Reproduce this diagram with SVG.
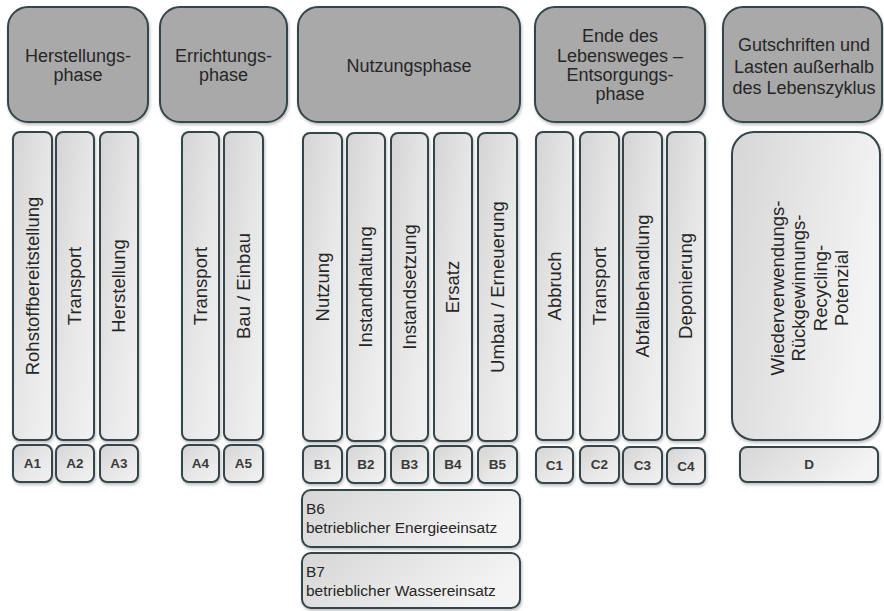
<svg xmlns="http://www.w3.org/2000/svg" width="884" height="611" viewBox="0 0 884 611">
<defs>
  <linearGradient id="colGrad" x1="0" y1="0" x2="1" y2="1">
    <stop offset="0" stop-color="#d4d4d4"/>
    <stop offset="0.5" stop-color="#e6e6e6"/>
    <stop offset="1" stop-color="#f2f2f2"/>
  </linearGradient>
  <linearGradient id="wideGrad" x1="0" y1="0" x2="1" y2="0.3">
    <stop offset="0" stop-color="#d6d6d6"/>
    <stop offset="1" stop-color="#f4f4f4"/>
  </linearGradient>
  <filter id="sh" x="-20%" y="-20%" width="140%" height="140%">
    <feDropShadow dx="1" dy="2" stdDeviation="1.5" flood-color="#000" flood-opacity="0.25"/>
  </filter>
</defs>
<style>
  .hdr { fill: #a9a9a9; stroke: #34444a; stroke-width: 2; filter: url(#sh); }
  .col { fill: url(#colGrad); stroke: #34444a; stroke-width: 2; filter: url(#sh); }
  .wide { fill: url(#wideGrad); stroke: #34444a; stroke-width: 2; filter: url(#sh); }
  text { font-family: "Liberation Sans", Arial, sans-serif; fill: #262626; }
  .ht { font-size: 18px; text-anchor: middle; }
  .ct { font-size: 18.5px; text-anchor: middle; }
  .lt { font-size: 13.5px; font-weight: bold; text-anchor: middle; fill: #3a3a3a; }
  .bt { font-size: 15.5px; }
</style>
<rect width="884" height="611" fill="#ffffff"/>

<!-- Headers -->
<g id="hdr-herstellung">
  <rect class="hdr" x="8" y="7" width="140" height="115" rx="20"/>
  <text class="ht" x="78" y="62">Herstellungs-</text>
  <text class="ht" x="78" y="81">phase</text>
</g>
<g id="hdr-errichtung">
  <rect class="hdr" x="160" y="7" width="127" height="115" rx="20"/>
  <text class="ht" x="223.5" y="62">Errichtungs-</text>
  <text class="ht" x="223.5" y="81">phase</text>
</g>
<g id="hdr-nutzung">
  <rect class="hdr" x="298" y="7" width="222" height="115" rx="20"/>
  <text class="ht" x="409" y="72">Nutzungsphase</text>
</g>
<g id="hdr-ende">
  <rect class="hdr" x="535" y="7" width="170" height="115" rx="20"/>
  <text class="ht" x="620" y="42">Ende des</text>
  <text class="ht" x="620" y="62">Lebensweges –</text>
  <text class="ht" x="620" y="81">Entsorgungs-</text>
  <text class="ht" x="620" y="100">phase</text>
</g>
<g id="hdr-gutschriften">
  <rect class="hdr" x="723" y="7" width="159" height="115" rx="20"/>
  <text class="ht" x="804" y="51">Gutschriften und</text>
  <text class="ht" x="804" y="73">Lasten außerhalb</text>
  <text class="ht" x="804" y="94">des Lebenszyklus</text>
</g>

<!-- A columns -->
<g id="A1">
  <rect class="col" x="13" y="132" width="39" height="308" rx="7"/>
  <text class="ct" transform="translate(32.5,286) rotate(-90)" dy="0.35em">Rohstoffbereitstellung</text>
  <rect class="col" x="13" y="445" width="39" height="37" rx="7"/>
  <text class="lt" x="32.5" y="468">A1</text>
</g>
<g id="A2">
  <rect class="col" x="56" y="132" width="38" height="308" rx="7"/>
  <text class="ct" transform="translate(75,286) rotate(-90)" dy="0.35em">Transport</text>
  <rect class="col" x="56" y="445" width="38" height="37" rx="7"/>
  <text class="lt" x="75" y="468">A2</text>
</g>
<g id="A3">
  <rect class="col" x="100" y="132" width="38" height="308" rx="7"/>
  <text class="ct" transform="translate(119,286) rotate(-90)" dy="0.35em">Herstellung</text>
  <rect class="col" x="100" y="445" width="38" height="37" rx="7"/>
  <text class="lt" x="119" y="468">A3</text>
</g>
<g id="A4">
  <rect class="col" x="182" y="132" width="37" height="308" rx="7"/>
  <text class="ct" transform="translate(200.5,286) rotate(-90)" dy="0.35em">Transport</text>
  <rect class="col" x="182" y="445" width="37" height="37" rx="7"/>
  <text class="lt" x="200.5" y="468">A4</text>
</g>
<g id="A5">
  <rect class="col" x="224" y="132" width="39" height="308" rx="7"/>
  <text class="ct" transform="translate(243.5,286) rotate(-90)" dy="0.35em">Bau / Einbau</text>
  <rect class="col" x="224" y="445" width="39" height="37" rx="7"/>
  <text class="lt" x="243.5" y="468">A5</text>
</g>

<!-- B columns -->
<g id="B1">
  <rect class="col" x="303" y="133" width="39" height="308" rx="7"/>
  <text class="ct" transform="translate(322.5,287) rotate(-90)" dy="0.35em">Nutzung</text>
  <rect class="col" x="303" y="446" width="39" height="37" rx="7"/>
  <text class="lt" x="322.5" y="469">B1</text>
</g>
<g id="B2">
  <rect class="col" x="347" y="133" width="38" height="308" rx="7"/>
  <text class="ct" transform="translate(366,287) rotate(-90)" dy="0.35em">Instandhaltung</text>
  <rect class="col" x="347" y="446" width="38" height="37" rx="7"/>
  <text class="lt" x="366" y="469">B2</text>
</g>
<g id="B3">
  <rect class="col" x="391" y="133" width="37" height="308" rx="7"/>
  <text class="ct" transform="translate(409.5,287) rotate(-90)" dy="0.35em">Instandsetzung</text>
  <rect class="col" x="391" y="446" width="37" height="37" rx="7"/>
  <text class="lt" x="409.5" y="469">B3</text>
</g>
<g id="B4">
  <rect class="col" x="434" y="133" width="38" height="308" rx="7"/>
  <text class="ct" transform="translate(453,287) rotate(-90)" dy="0.35em">Ersatz</text>
  <rect class="col" x="434" y="446" width="38" height="37" rx="7"/>
  <text class="lt" x="453" y="469">B4</text>
</g>
<g id="B5">
  <rect class="col" x="478" y="133" width="39" height="308" rx="7"/>
  <text class="ct" transform="translate(497.5,287) rotate(-90)" dy="0.35em">Umbau / Erneuerung</text>
  <rect class="col" x="478" y="446" width="39" height="37" rx="7"/>
  <text class="lt" x="497.5" y="469">B5</text>
</g>
<g id="B6">
  <rect class="wide" x="302" y="490" width="218" height="57" rx="9"/>
  <text class="bt" x="306" y="514">B6</text>
  <text class="bt" x="306" y="533">betrieblicher Energieeinsatz</text>
</g>
<g id="B7">
  <rect class="wide" x="302" y="553" width="218" height="55" rx="9"/>
  <text class="bt" x="306" y="577">B7</text>
  <text class="bt" x="306" y="596">betrieblicher Wassereinsatz</text>
</g>

<!-- C columns -->
<g id="C1">
  <rect class="col" x="536" y="132" width="37" height="308" rx="7"/>
  <text class="ct" transform="translate(554.5,286) rotate(-90)" dy="0.35em">Abbruch</text>
  <rect class="col" x="536" y="447" width="37" height="36" rx="7"/>
  <text class="lt" x="554.5" y="470">C1</text>
</g>
<g id="C2">
  <rect class="col" x="580" y="132" width="39" height="308" rx="7"/>
  <text class="ct" transform="translate(599.5,286) rotate(-90)" dy="0.35em">Transport</text>
  <rect class="col" x="580" y="446" width="39" height="37" rx="7"/>
  <text class="lt" x="599.5" y="469">C2</text>
</g>
<g id="C3">
  <rect class="col" x="623" y="132" width="39" height="308" rx="7"/>
  <text class="ct" transform="translate(642.5,286) rotate(-90)" dy="0.35em">Abfallbehandlung</text>
  <rect class="col" x="623" y="447" width="39" height="37" rx="7"/>
  <text class="lt" x="642.5" y="470">C3</text>
</g>
<g id="C4">
  <rect class="col" x="667" y="132" width="38" height="308" rx="7"/>
  <text class="ct" transform="translate(686,286) rotate(-90)" dy="0.35em">Deponierung</text>
  <rect class="col" x="667" y="448" width="38" height="36" rx="7"/>
  <text class="lt" x="686" y="471">C4</text>
</g>

<!-- D -->
<g id="D">
  <rect class="wide" x="732" y="132" width="148" height="308" rx="22"/>
  <g transform="translate(810,288) rotate(-90)">
    <text class="ct" x="0" y="-32" dy="0.35em">Wiederverwendungs-</text>
    <text class="ct" x="0" y="-11" dy="0.35em">Rückgewinnungs-</text>
    <text class="ct" x="0" y="11" dy="0.35em">Recycling-</text>
    <text class="ct" x="0" y="32" dy="0.35em">Potenzial</text>
  </g>
  <rect class="wide" x="740" y="447" width="138" height="35" rx="7"/>
  <text class="lt" x="809" y="469">D</text>
</g>

<g id="connectors"></g>
</svg>
